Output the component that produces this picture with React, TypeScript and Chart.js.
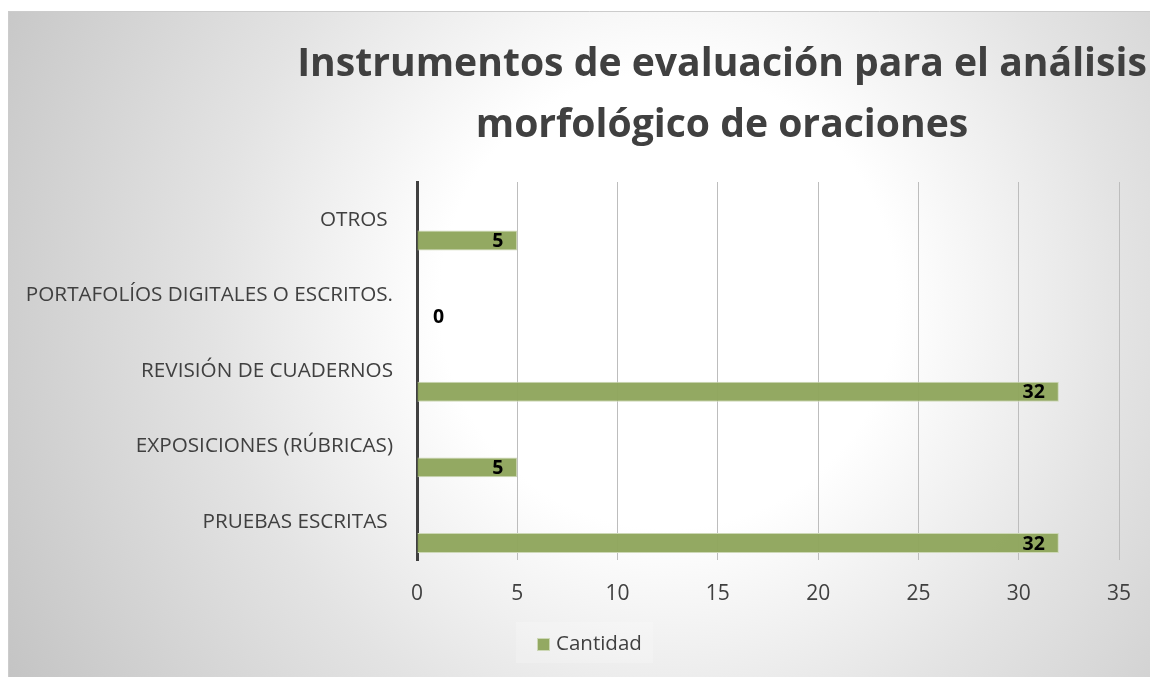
import React, { useEffect, useRef } from "react";
import { Chart, registerables } from "chart.js";

Chart.register(...registerables);

const categories = [
  "OTROS ",
  "PORTAFOLÍOS DIGITALES O ESCRITOS.",
  "REVISIÓN DE CUADERNOS",
  "EXPOSICIONES (RÚBRICAS)",
  "PRUEBAS ESCRITAS ",
];
const cantidad = [5, 0, 32, 5, 32];
const emptySeries = [null, null, null, null, null];
const seriesName = "Cantidad";
const titleLines = ["Instrumentos de evaluación para el análisis", "morfológico de oraciones"];
const xMin = 0;
const xMax = 35;
const xStep = 5;

const FONT = "'Open Sans', 'Noto Sans', sans-serif";
const TEXT = "#404040";
const BAR = "rgba(143,166,92,0.96)";
const BAR_BORDER = "#cdd8b6";

const CANVAS_W = 1162;
const CANVAS_H = 666;

const backgroundPlugin = {
  id: "bgPlugin",
  beforeDraw(chart: any) {
    const ctx = chart.ctx;
    ctx.save();
    const g = ctx.createRadialGradient(660, 290, 0, 660, 290, 760);
    g.addColorStop(0, "#ffffff");
    g.addColorStop(0.3, "#ffffff");
    g.addColorStop(0.6, "#e3e3e3");
    g.addColorStop(1, "#c4c4c4");
    ctx.fillStyle = g;
    ctx.fillRect(0, 0, chart.width, chart.height);
    ctx.strokeStyle = "#cccccc";
    ctx.lineWidth = 1;
    ctx.beginPath();
    ctx.moveTo(0.5, chart.height);
    ctx.lineTo(0.5, 0.5);
    ctx.lineTo(chart.width, 0.5);
    ctx.stroke();
    ctx.restore();
  },
};

const titlePlugin = {
  id: "titlePlugin",
  afterDraw(chart: any) {
    const ctx = chart.ctx;
    ctx.save();
    ctx.font = `700 40px ${FONT}`;
    const w = ctx.measureText(titleLines[0]).width;
    const size = (40 * 850) / w;
    ctx.font = `700 ${size}px ${FONT}`;
    ctx.fillStyle = TEXT;
    ctx.textAlign = "center";
    ctx.textBaseline = "alphabetic";
    ctx.fillText(titleLines[0], 714, 65);
    ctx.fillText(titleLines[1], 714, 126);
    ctx.restore();
  },
};

const legendPlugin = {
  id: "customLegend",
  afterDraw(chart: any) {
    const ctx = chart.ctx;
    ctx.save();
    ctx.fillStyle = "rgba(255,255,255,0.2)";
    ctx.fillRect(508, 611, 137, 41);
    ctx.fillStyle = BAR;
    ctx.fillRect(529, 627, 13, 13);
    ctx.strokeStyle = BAR_BORDER;
    ctx.lineWidth = 1;
    ctx.strokeRect(529.5, 627.5, 12, 12);
    ctx.font = `20.5px ${FONT}`;
    ctx.fillStyle = TEXT;
    ctx.textAlign = "left";
    ctx.textBaseline = "middle";
    ctx.fillText(seriesName, 548, 633);
    ctx.restore();
  },
};

const labelPlugin = {
  id: "labelPlugin",
  afterDatasetsDraw(chart: any) {
    const ctx = chart.ctx;
    const meta = chart.getDatasetMeta(1);
    ctx.save();
    ctx.font = `700 19.5px ${FONT}`;
    ctx.fillStyle = "#000000";
    ctx.textBaseline = "middle";
    ctx.textAlign = "left";
    meta.data.forEach((bar: any, i: number) => {
      const v = cantidad[i];
      const txt = String(v);
      const tw = ctx.measureText(txt).width;
      let x = bar.x - 14 - tw;
      if (x < bar.base + 16) x = bar.base + 16;
      ctx.fillText(txt, x, bar.y + 1);
    });
    ctx.restore();
  },
};

export default function App() {
  const ref = useRef<HTMLCanvasElement | null>(null);
  useEffect(() => {
    if (!ref.current) return;
    const chart = new Chart(ref.current, {
      type: "bar",
      data: {
        labels: categories,
        datasets: [
          {
            label: "",
            data: emptySeries as any,
            backgroundColor: "rgba(0,0,0,0)",
          },
          {
            label: seriesName,
            data: cantidad,
            backgroundColor: BAR,
            borderColor: BAR_BORDER,
            borderWidth: 1,
          },
        ],
      },
      options: {
        indexAxis: "y",
        responsive: false,
        animation: false,
        devicePixelRatio: 1,
        datasets: {
          bar: {
            categoryPercentage: 1.1,
            barPercentage: 0.48,
          },
        },
        layout: { padding: { top: 171, right: 51, bottom: 55, left: 0 } },
        scales: {
          x: {
            min: xMin,
            max: xMax,
            ticks: {
              stepSize: xStep,
              color: TEXT,
              font: { family: FONT, size: 21 },
              padding: 21,
            },
            grid: { color: "#bdbdbd", lineWidth: 1, drawTicks: false },
            border: { display: false },
            afterFit(scale: any) {
              scale.height = 62;
            },
          },
          y: {
            ticks: {
              color: TEXT,
              font: { family: FONT, size: 20.7 },
              padding: 24,
            },
            grid: { display: false, drawTicks: false },
            border: { display: true, color: "#404040", width: 3 },
            afterFit(scale: any) {
              scale.width = 409;
            },
          },
        },
        plugins: {
          title: { display: false },
          tooltip: { enabled: false },
          legend: { display: false },
        },
      },
      plugins: [backgroundPlugin, titlePlugin, legendPlugin, labelPlugin],
    });
    return () => chart.destroy();
  }, []);

  return (
    <div
      style={{
        position: "fixed",
        left: 8,
        top: 11,
        width: 1142,
        height: CANVAS_H,
        overflow: "hidden",
      }}
    >
      <canvas ref={ref} width={CANVAS_W} height={CANVAS_H} style={{ display: "block" }} />
    </div>
  );
}
